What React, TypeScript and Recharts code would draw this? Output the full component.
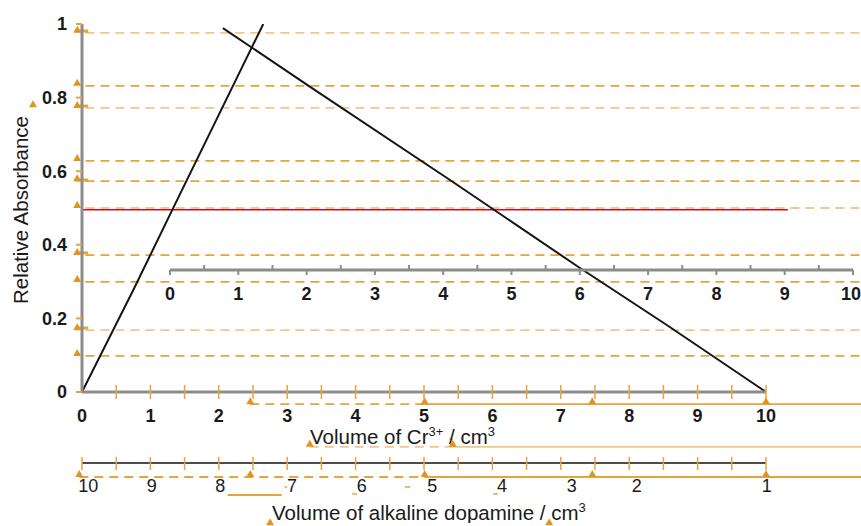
import React from "react";
import {
  LineChart,
  Line,
  XAxis,
  YAxis,
  ReferenceLine,
  ReferenceDot,
  Label,
} from "recharts";

// Cr3+ line (rising) and dopamine line (falling), x = volume of Cr3+ / cm3
const riseLine = [
  { x: 0, y: 0 },
  { x: 0.75, y: 0.277 },
  { x: 1.32, y: 0.495 },
  { x: 2.65, y: 1.0 },
];
const fallLine = [
  { x: 2.06, y: 0.989 },
  { x: 3.33, y: 0.83 },
  { x: 5.38, y: 0.576 },
  { x: 7.28, y: 0.337 },
  { x: 8.55, y: 0.182 },
  { x: 10, y: 0 },
];

const yTicks = [0, 0.2, 0.4, 0.6, 0.8, 1];
const halfTicks = [
  0, 0.5, 1, 1.5, 2, 2.5, 3, 3.5, 4, 4.5, 5, 5.5, 6, 6.5, 7, 7.5, 8, 8.5, 9,
  9.5, 10,
];
const dopamineLabels = [10, 9, 8, 7, 6, 5, 4, 3, 2, 1];
const dopamineLabelPos = [0.09, 1.02, 2.02, 3.07, 4.09, 5.12, 6.14, 7.16, 8.11, 10.01];

// orange dashed guides across the plot
const guideLevels = [0.976, 0.832, 0.772, 0.628, 0.573, 0.5, 0.372, 0.299, 0.168, 0.098];
const guideLight = [true, false, true, false, false, true, false, false, true, false];
const redLevel = 0.495;
const redEnd = 10.32;
const rightEdge = 11.39;

// orange bars next to the y ticks
const yBars = [0.981, 0.777, 0.576, 0.378, 0.174];

// orange rails below the x axis: dashed part then solid part
const rails = [
  { y: -0.033, from: 2.46, split: 5.01, light: false },
  { y: -0.149, from: 3.33, split: 5.42, light: true },
  { y: -0.231, from: -0.04, split: 5.01, light: false },
];

// orange triangle markers
const triMarks = [
  { x: 2.46, y: -0.033 }, { x: 5.01, y: -0.033 }, { x: 7.46, y: -0.033 }, { x: 10, y: -0.033 },
  { x: 3.33, y: -0.149 }, { x: 5.42, y: -0.149 },
  { x: -0.04, y: -0.231 }, { x: 2.46, y: -0.231 }, { x: 5.01, y: -0.231 }, { x: 7.46, y: -0.231 }, { x: 10, y: -0.231 },
  { x: 2.75, y: -0.362 }, { x: 6.83, y: -0.362 },
  { x: -0.716, y: 0.774 },
];

// stray orange dashes near the lower labels
const strayDashes = [
  { x1: 2.13, x2: 2.92, y: -0.28, w: 2 },
  { x1: 2.96, x2: 3.0, y: -0.258, w: 1.5 },
  { x1: 3.95, x2: 4.02, y: -0.277, w: 1.5 },
  { x1: 4.72, x2: 4.8, y: -0.258, w: 1.5 },
  { x1: 6.01, x2: 6.08, y: -0.277, w: 1.5 },
  { x1: 5.37, x2: 5.42, y: -0.128, w: 1.5 },
];

const ORANGE = "#e8a43c";
const ORANGE_LIGHT = "#f2c78a";
const TRI = "#e29420";
const GREY = "#8c8c8c";
const INK = "#1a1a1a";
const TITLE_SIZE = 20.5;

const Triangle = (props: any) => {
  const { cx, cy } = props;
  return <path d={`M${cx - 4},${cy} L${cx + 4},${cy} L${cx},${cy - 7} Z`} fill={TRI} />;
};

const CrTick = (props: any) => {
  const { x, y, payload } = props;
  const v = payload.value;
  return (
    <g>
      {v > 0 && <line x1={x} x2={x} y1={y - 7} y2={y + 7} stroke={ORANGE} strokeWidth={1.5} />}
      {Number.isInteger(v) && (
        <text x={x} y={y + 30} textAnchor="middle" fontSize={18} fontWeight="bold" fill={INK}>
          {v}
        </text>
      )}
    </g>
  );
};

const MidTick = (props: any) => {
  const { x, y, payload } = props;
  const v = payload.value;
  const major = Number.isInteger(v);
  return (
    <g>
      <line x1={x} x2={x} y1={major ? y : y - 5} y2={major ? y + 5 : y} stroke={GREY} strokeWidth={2} />
      {major && (
        <text x={v === 10 ? x - 2 : x} y={y + 30} textAnchor="middle" fontSize={18} fontWeight="bold" fill={INK}>
          {v}
        </text>
      )}
    </g>
  );
};

const DopTick = (props: any) => {
  const { x, y } = props;
  return <line x1={x} x2={x} y1={y - 6} y2={y + 7} stroke={ORANGE} strokeWidth={1.5} />;
};

const CrTitle = (props: any) => {
  const { x, y } = props.viewBox;
  return (
    <text x={x + 228} y={y + 52} fontSize={TITLE_SIZE} fill={INK}>
      Volume of Cr
      <tspan fontSize={13} dy={-8}>3+</tspan>
      <tspan dy={8}> / cm</tspan>
      <tspan fontSize={13} dy={-8}>3</tspan>
    </text>
  );
};

const DopTitle = (props: any) => {
  const { x, y } = props.viewBox;
  return (
    <text x={x + 190} y={y + 45} fontSize={TITLE_SIZE} fill={INK}>
      Volume of alkaline dopamine / cm
      <tspan fontSize={13} dy={-8}>3</tspan>
    </text>
  );
};

const YTitle = (props: any) => {
  const { x, y, height } = props.viewBox;
  const cx = x + 20;
  const cy = y + height / 2 + 2;
  return (
    <text
      x={cx}
      y={cy}
      transform={`rotate(-90 ${cx} ${cy})`}
      textAnchor="middle"
      dominantBaseline="central"
      fontSize={TITLE_SIZE}
      fill={INK}
    >
      Relative Absorbance
    </text>
  );
};

export default function App() {
  return (
    <div
      style={{
        position: "absolute",
        left: 0,
        top: 0,
        width: 861,
        height: 526,
        overflow: "hidden",
        background: "#fff",
        fontFamily: "'Liberation Sans', Arial, sans-serif",
      }}
    >
      <div style={{ position: "absolute", left: 0, top: 0 }}>
        <LineChart width={861} height={526} margin={{ top: 24, right: 95, bottom: 104, left: 0 }}>
          <XAxis
            type="number"
            dataKey="x"
            domain={[0, 10]}
            ticks={halfTicks}
            interval={0}
            height={30}
            tickSize={0}
            tickMargin={0}
            tickLine={false}
            axisLine={{ stroke: GREY, strokeWidth: 3 }}
            tick={<CrTick />}
            allowDataOverflow
          >
            <Label content={<CrTitle />} />
          </XAxis>
          <YAxis
            type="number"
            domain={[0, 1]}
            ticks={yTicks}
            interval={0}
            width={82}
            tickSize={6}
            tickMargin={9}
            tickLine={{ stroke: ORANGE, strokeWidth: 2 }}
            axisLine={{ stroke: GREY, strokeWidth: 3 }}
            tick={{ fontSize: 18, fontWeight: "bold", fill: INK }}
            allowDataOverflow
          >
            <Label content={<YTitle />} />
          </YAxis>

          {guideLevels.map((v, i) => (
            <ReferenceLine
              key={`g${i}`}
              segment={[{ x: 0.05, y: v }, { x: rightEdge, y: v }]}
              stroke={guideLight[i] ? ORANGE_LIGHT : ORANGE}
              strokeWidth={1.8}
              strokeDasharray="9 6"
              ifOverflow="visible"
            />
          ))}
          {yBars.map((v, i) => (
            <ReferenceLine
              key={`b${i}`}
              segment={[{ x: -0.09, y: v }, { x: 0.09, y: v }]}
              stroke={ORANGE}
              strokeWidth={3}
              ifOverflow="visible"
            />
          ))}
          {rails.map((r, i) => (
            <ReferenceLine
              key={`rd${i}`}
              segment={[{ x: r.from, y: r.y }, { x: r.split, y: r.y }]}
              stroke={r.light ? ORANGE_LIGHT : ORANGE}
              strokeWidth={1.8}
              strokeDasharray="9 6"
              ifOverflow="visible"
            />
          ))}
          {rails.map((r, i) => (
            <ReferenceLine
              key={`rs${i}`}
              segment={[{ x: r.split, y: r.y }, { x: rightEdge, y: r.y }]}
              stroke={r.light ? ORANGE_LIGHT : ORANGE}
              strokeWidth={1.8}
              ifOverflow="visible"
            />
          ))}
          {strayDashes.map((d, i) => (
            <ReferenceLine
              key={`s${i}`}
              segment={[{ x: d.x1, y: d.y }, { x: d.x2, y: d.y }]}
              stroke={ORANGE}
              strokeWidth={d.w}
              ifOverflow="visible"
            />
          ))}
          <ReferenceLine
            segment={[{ x: 0, y: redLevel }, { x: redEnd, y: redLevel }]}
            stroke="#c8102e"
            strokeWidth={1.5}
            ifOverflow="visible"
          />
          {guideLevels.map((v, i) => (
            <ReferenceDot key={`lt${i}`} x={-0.07} y={v} r={4} shape={<Triangle />} ifOverflow="visible" />
          ))}
          {triMarks.map((m, i) => (
            <ReferenceDot key={`t${i}`} x={m.x} y={m.y} r={4} shape={<Triangle />} ifOverflow="visible" />
          ))}

          <Line
            data={riseLine}
            dataKey="y"
            type="linear"
            stroke="#151515"
            strokeWidth={2}
            dot={false}
            isAnimationActive={false}
          />
          <Line
            data={fallLine}
            dataKey="y"
            type="linear"
            stroke="#151515"
            strokeWidth={2}
            dot={false}
            isAnimationActive={false}
          />
        </LineChart>
      </div>

      {/* second Cr3+ scale drawn across the middle of the plot */}
      <div style={{ position: "absolute", left: 0, top: 250 }}>
        <LineChart
          width={861}
          height={60}
          margin={{ top: 0, right: 8, bottom: 0, left: 170 }}
          data={halfTicks.map((x) => ({ x }))}
        >
          <XAxis
            type="number"
            dataKey="x"
            domain={[0, 10]}
            ticks={halfTicks}
            interval={0}
            height={40}
            tickSize={0}
            tickMargin={0}
            tickLine={false}
            axisLine={{ stroke: GREY, strokeWidth: 3 }}
            tick={<MidTick />}
          />
          <YAxis hide domain={[0, 1]} />
        </LineChart>
      </div>

      {/* dopamine scale: number row, then the tick rail nearest the plot */}
      <div style={{ position: "absolute", left: 0, top: 453 }}>
        <LineChart
          width={861}
          height={70}
          margin={{ top: 0, right: 95, bottom: 0, left: 82 }}
          data={halfTicks.map((x) => ({ x }))}
        >
          <XAxis
            xAxisId="b"
            type="number"
            dataKey="x"
            domain={[0, 10]}
            ticks={dopamineLabelPos}
            interval={0}
            height={48}
            tickSize={0}
            tickMargin={4}
            tickLine={false}
            axisLine={false}
            tickFormatter={(v: number) => String(dopamineLabels[dopamineLabelPos.indexOf(v)])}
            tick={{ fontSize: 18, fill: INK }}
          >
            <Label content={<DopTitle />} />
          </XAxis>
          <XAxis
            xAxisId="a"
            type="number"
            dataKey="x"
            domain={[0, 10]}
            ticks={halfTicks}
            interval={0}
            height={12}
            tickSize={0}
            tickMargin={0}
            tickLine={false}
            axisLine={{ stroke: "#111", strokeWidth: 1.5 }}
            tick={<DopTick />}
          />
          <YAxis hide domain={[0, 1]} />
        </LineChart>
      </div>
    </div>
  );
}
